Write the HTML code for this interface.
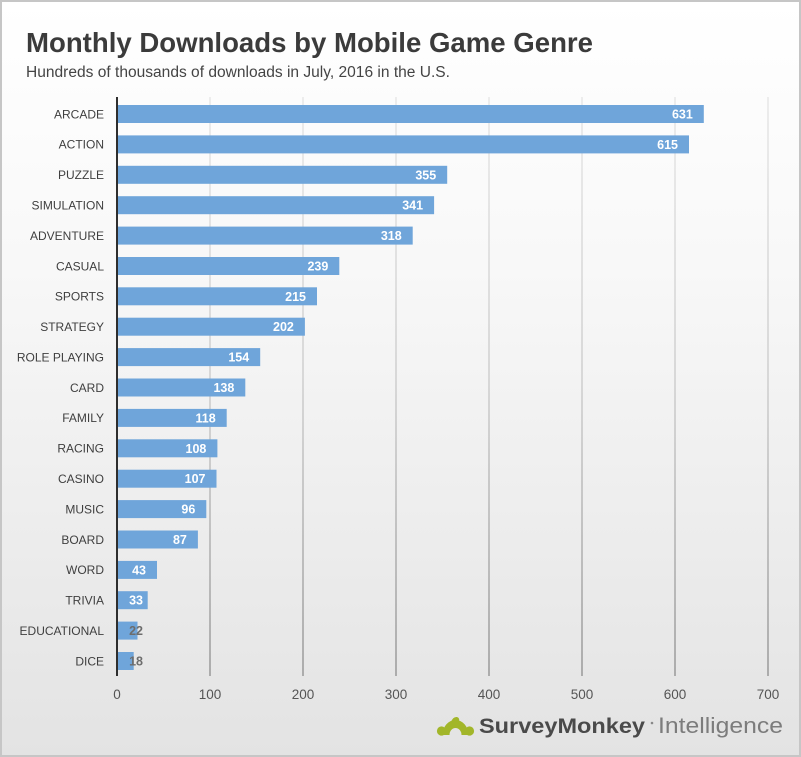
<!DOCTYPE html>
<html><head><meta charset="utf-8"><style>
html,body{margin:0;padding:0;background:#fff;}
svg{display:block;}
</style></head><body>
<svg width="801" height="757" viewBox="0 0 801 757" xmlns="http://www.w3.org/2000/svg">
<defs>
<linearGradient id="bg" x1="0" y1="0" x2="0" y2="1">
<stop offset="0" stop-color="#ffffff"/>
<stop offset="0.35" stop-color="#f8f8f8"/>
<stop offset="1" stop-color="#e3e3e3"/>
</linearGradient>
<linearGradient id="gl" gradientUnits="userSpaceOnUse" x1="0" y1="97" x2="0" y2="676">
<stop offset="0" stop-color="#e2e2e2"/>
<stop offset="0.5" stop-color="#c4c4c4"/>
<stop offset="1" stop-color="#858585"/>
</linearGradient>
</defs>
<rect x="1" y="1" width="799" height="755" fill="url(#bg)" stroke="#c6c6c6" stroke-width="2"/>

<g font-family="'Liberation Sans', Arial, sans-serif">
<text x="26" y="52" font-size="28" font-weight="bold" fill="#3b3b3b" textLength="567" lengthAdjust="spacingAndGlyphs">Monthly Downloads by Mobile Game Genre</text>
<text x="26" y="77" font-size="15.5" fill="#444" textLength="424" lengthAdjust="spacingAndGlyphs">Hundreds of thousands of downloads in July, 2016 in the U.S.</text>

<g stroke="url(#gl)" stroke-width="1.2">
<line x1="210" y1="97" x2="210" y2="676"/>
<line x1="303" y1="97" x2="303" y2="676"/>
<line x1="396" y1="97" x2="396" y2="676"/>
<line x1="489" y1="97" x2="489" y2="676"/>
<line x1="582" y1="97" x2="582" y2="676"/>
<line x1="675" y1="97" x2="675" y2="676"/>
<line x1="768" y1="97" x2="768" y2="676"/>
</g>

<g fill="#6fa5da">
<rect x="118" y="105" width="585.8" height="18"/>
<rect x="118" y="135.4" width="571.0" height="18"/>
<rect x="118" y="165.8" width="329.2" height="18"/>
<rect x="118" y="196.2" width="316.1" height="18"/>
<rect x="118" y="226.6" width="294.7" height="18"/>
<rect x="118" y="257.0" width="221.3" height="18"/>
<rect x="118" y="287.3" width="199.0" height="18"/>
<rect x="118" y="317.7" width="186.9" height="18"/>
<rect x="118" y="348.1" width="142.2" height="18"/>
<rect x="118" y="378.5" width="127.3" height="18"/>
<rect x="118" y="408.9" width="108.7" height="18"/>
<rect x="118" y="439.3" width="99.4" height="18"/>
<rect x="118" y="469.7" width="98.5" height="18"/>
<rect x="118" y="500.1" width="88.3" height="18"/>
<rect x="118" y="530.5" width="79.9" height="18"/>
<rect x="118" y="560.9" width="39.0" height="18"/>
<rect x="118" y="591.2" width="29.7" height="18"/>
<rect x="118" y="621.6" width="19.5" height="18"/>
<rect x="118" y="652.0" width="15.7" height="18"/>
</g>

<line x1="117" y1="97" x2="117" y2="676" stroke="#2e2e2e" stroke-width="2"/>

<g font-size="12" fill="#3f3f3f" text-anchor="end">
<text x="104" y="118.3">ARCADE</text>
<text x="104" y="148.7">ACTION</text>
<text x="104" y="179.1">PUZZLE</text>
<text x="104" y="209.5">SIMULATION</text>
<text x="104" y="239.9">ADVENTURE</text>
<text x="104" y="270.3">CASUAL</text>
<text x="104" y="300.6">SPORTS</text>
<text x="104" y="331.0">STRATEGY</text>
<text x="104" y="361.4">ROLE PLAYING</text>
<text x="104" y="391.8">CARD</text>
<text x="104" y="422.2">FAMILY</text>
<text x="104" y="452.6">RACING</text>
<text x="104" y="483.0">CASINO</text>
<text x="104" y="513.4">MUSIC</text>
<text x="104" y="543.8">BOARD</text>
<text x="104" y="574.2">WORD</text>
<text x="104" y="604.5">TRIVIA</text>
<text x="104" y="634.9">EDUCATIONAL</text>
<text x="104" y="665.3">DICE</text>
</g>

<g font-size="12.5" font-weight="bold" fill="#ffffff" text-anchor="end">
<text x="692.8" y="118.5">631</text>
<text x="678" y="148.9">615</text>
<text x="436.2" y="179.3">355</text>
<text x="423.1" y="209.7">341</text>
<text x="401.7" y="240.1">318</text>
<text x="328.3" y="270.5">239</text>
<text x="306" y="300.8">215</text>
<text x="293.9" y="331.2">202</text>
<text x="249.2" y="361.6">154</text>
<text x="234.3" y="392.0">138</text>
<text x="215.7" y="422.4">118</text>
<text x="206.4" y="452.8">108</text>
<text x="205.5" y="483.2">107</text>
<text x="195.3" y="513.6">96</text>
<text x="186.9" y="544.0">87</text>
<text x="146" y="574.4">43</text>
<text x="143" y="604.7">33</text>
</g>
<g font-size="12.5" font-weight="bold" fill="#6d6d6d" text-anchor="end">
<text x="143" y="635.1">22</text>
<text x="143" y="665.5">18</text>
</g>

<g font-size="13.5" fill="#555" text-anchor="middle">
<text x="117" y="699">0</text>
<text x="210" y="699">100</text>
<text x="303" y="699">200</text>
<text x="396" y="699">300</text>
<text x="489" y="699">400</text>
<text x="582" y="699">500</text>
<text x="675" y="699">600</text>
<text x="768" y="699">700</text>
</g>

<g fill="#a2b62a">
<path d="M442.5 735 A13 15 0 0 1 468.5 735 L461.5 735 A6 7 0 0 0 449.5 735 Z"/>
<circle cx="441.5" cy="731" r="4.6"/>
<circle cx="469.5" cy="731" r="4.6"/>
<path d="M451 722 Q453 716.5 457 717 Q460 718 459 721.5 Z"/>
</g>
<text x="479" y="733" font-size="21" font-weight="bold" fill="#4a4a4a" textLength="166" lengthAdjust="spacingAndGlyphs">SurveyMonkey</text>
<circle cx="652" cy="723" r="1.3" fill="#888"/>
<text x="658" y="733" font-size="22" fill="#7c7c7c" textLength="125" lengthAdjust="spacingAndGlyphs">Intelligence</text>
</g>
</svg>
</body></html>
